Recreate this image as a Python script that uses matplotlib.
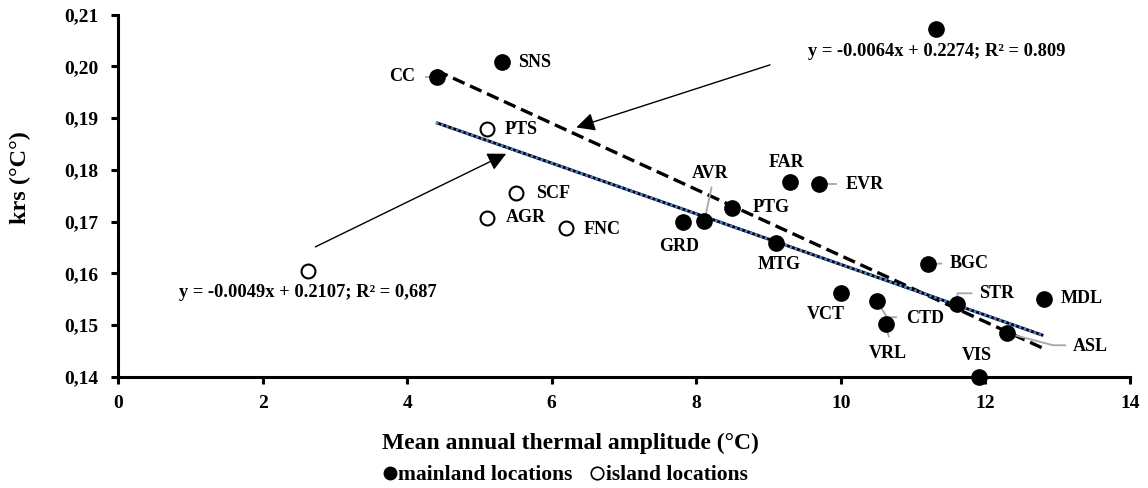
import matplotlib
matplotlib.use("Agg")
import matplotlib.pyplot as plt
import matplotlib.transforms as mtransforms
from matplotlib.lines import Line2D
import numpy as np

plt.rcParams['font.family'] = ['Liberation Serif', 'DejaVu Serif']
plt.rcParams['font.weight'] = 'bold'

# ---------------- data ----------------
mainland_names = ["CC", "SNS", "GRD", "AVR", "PTG", "FAR", "EVR", "MTG", "BGC",
                  "VCT", "CTD", "VRL", "STR", "MDL", "ASL", "VIS", ""]
mainland_x = [4.41, 5.31, 7.81, 8.10, 8.50, 9.30, 9.70, 9.10, 11.21,
              10.00, 10.50, 10.62, 11.60, 12.81, 12.30, 11.91, 11.32]
mainland_y = [0.1980, 0.2008, 0.1700, 0.1702, 0.1727, 0.1777, 0.1773, 0.1659, 0.1617,
              0.1562, 0.1546, 0.1501, 0.1540, 0.1551, 0.1484, 0.1400, 0.2072]

island_names = ["PTS", "SCF", "AGR", "FNC", ""]
island_x = [5.11, 5.50, 5.11, 6.20, 2.63]
island_y = [0.1879, 0.1755, 0.1707, 0.1687, 0.1605]

# trend lines (from the equations printed on the chart)
trend1_slope, trend1_intercept = -0.0064, 0.2274   # dashed black
trend2_slope, trend2_intercept = -0.0049, 0.2107   # blue dotted
trend_x_range = [4.4, 12.8]
eq1_text = "y = -0.0064x + 0.2274; R\u00b2 = 0.809"
eq2_text = "y = -0.0049x + 0.2107; R\u00b2 = 0,687"

x_ticks = [0, 2, 4, 6, 8, 10, 12, 14]
y_ticks = [0.14, 0.15, 0.16, 0.17, 0.18, 0.19, 0.20, 0.21]
y_tick_labels = ["0,14", "0,15", "0,16", "0,17", "0,18", "0,19", "0,20", "0,21"]

# ---------------- layout (pixel offsets from points) ----------------
label_offsets = {
    "CC": (-22, 0, 'right'), "SNS": (16, 0, 'left'), "GRD": (-3, -25, 'center'),
    "AVR": (7, 47, 'center'), "PTG": (20, 0, 'left'), "FAR": (-4, 19, 'center'),
    "EVR": (26, -1, 'left'), "MTG": (3, -22, 'center'), "BGC": (21, 1, 'left'),
    "VCT": (-15, -22, 'center'), "CTD": (29, -17, 'left'), "VRL": (2, -29, 'center'),
    "STR": (23, 11, 'left'), "MDL": (17, 0, 'left'), "ASL": (66, -13, 'left'),
    "VIS": (-2, 21, 'center'), "PTS": (17, -1, 'left'), "SCF": (20, 0, 'left'),
    "AGR": (18, 0, 'left'), "FNC": (17, -1, 'left'),
}
leaders = {
    "CC": [(-11, 0), (0, 0)],
    "AVR": [(1, 0), (8, 33)],
    "EVR": [(0, 0), (17, 0)],
    "BGC": [(0, 0), (13, 1)],
    "STR": [(0, 0), (1, 11), (15, 11)],
    "CTD": [(0, 0), (10, -16), (19, -16)],
    "VRL": [(0, 0), (3, -12)],
    "ASL": [(0, 0), (46, -12), (58, -12)],
}

W, H, DPI = 1148, 488, 100
fig = plt.figure(figsize=(W / DPI, H / DPI), dpi=DPI)
ax = fig.add_axes([118 / W, 1 - 376.7 / H, (1130 - 118) / W, (376.7 - 14.7) / H])

ax.set_xlim(0, 14)
ax.set_ylim(0.14, 0.21)

# trend lines
tx = np.array(trend_x_range)
ax.plot(tx, trend1_slope * tx + trend1_intercept, color='black', lw=2.4,
        linestyle=(0, (3.8, 1.8)), zorder=3)
ax.plot(tx, trend2_slope * tx + trend2_intercept, color='black', lw=2.2, zorder=3,
        solid_capstyle='butt')
ax.plot(tx, trend2_slope * tx + trend2_intercept, color='#4a80db', lw=2.0,
        linestyle=(0, (0.95, 0.95)), zorder=3.1, solid_capstyle='butt')

# points
ax.plot(mainland_x, mainland_y, 'o', color='black', ms=11, zorder=4, clip_on=False)
ax.plot(island_x, island_y, 'o', mfc='white', mec='black', mew=1.5, ms=10,
        zorder=4, clip_on=False)

# labels & leaders
def pix_trans(x, y):
    return mtransforms.Affine2D() + mtransforms.ScaledTranslation(x, y, ax.transData)

for names, xs, ys in ((mainland_names, mainland_x, mainland_y),
                      (island_names, island_x, island_y)):
    for n, x, y in zip(names, xs, ys):
        if not n:
            continue
        dx, dy, ha = label_offsets[n]
        ax.annotate(n, (x, y), xytext=(dx, dy), textcoords='offset pixels',
                    ha=ha, va='center', fontsize=13, fontweight='bold', zorder=6)
        if n in leaders:
            pts = np.array(leaders[n], dtype=float)
            ax.add_line(Line2D(pts[:, 0], pts[:, 1], color='#a6a6a6', lw=1.3,
                               transform=pix_trans(x, y), zorder=3.5, clip_on=False))

# equations with arrows
ax.text(11.33, 0.2028, eq1_text, ha='center', va='center', fontsize=13.3, fontweight='bold')
ax.text(2.63, 0.1562, eq2_text, ha='center', va='center', fontsize=13.3, fontweight='bold')
ax.annotate("", xy=(6.34, 0.1882), xytext=(9.02, 0.2003),
            arrowprops=dict(arrowstyle='-|>', mutation_scale=28, lw=1.0, color='black',
                            shrinkA=0, shrinkB=0))
ax.annotate("", xy=(5.37, 0.1831), xytext=(2.73, 0.1651),
            arrowprops=dict(arrowstyle='-|>', mutation_scale=28, lw=1.0, color='black',
                            shrinkA=0, shrinkB=0))

# axes styling
for s in ('top', 'right'):
    ax.spines[s].set_visible(False)
for s in ('left', 'bottom'):
    ax.spines[s].set_linewidth(2.2)
ax.set_xticks(x_ticks)
ax.set_xticklabels([str(v) for v in x_ticks])
ax.set_yticks(y_ticks)
ax.set_yticklabels(y_tick_labels)
ax.tick_params(axis='both', direction='out', length=5, width=2.2, labelsize=14)
ax.tick_params(axis='y', pad=9)
ax.tick_params(axis='x', pad=8)
for lab in ax.get_xticklabels() + ax.get_yticklabels():
    lab.set_fontweight('bold')

fig.text(20 / W, 1 - 178 / H, "krs (\u00b0C\u00b0)", rotation=90, ha='center', va='center',
         fontsize=17.5, fontweight='bold')
fig.text(570 / W, 1 - 443 / H, "Mean annual thermal amplitude (\u00b0C)", ha='center',
         va='center', fontsize=17, fontweight='bold')

handles = [Line2D([], [], marker='o', ls='', color='black', ms=9),
           Line2D([], [], marker='o', ls='', mfc='white', mec='black', mew=1.2, ms=9)]
fig.legend(handles, ["mainland locations", "island locations"], loc='center',
           bbox_to_anchor=(566 / W, 1 - 475 / H), ncol=2, frameon=False,
           handlelength=0.5, handletextpad=0.15, columnspacing=0.9,
           prop=dict(size=15.5, weight='bold'), borderpad=0)

fig.savefig("out.png", dpi=DPI)
